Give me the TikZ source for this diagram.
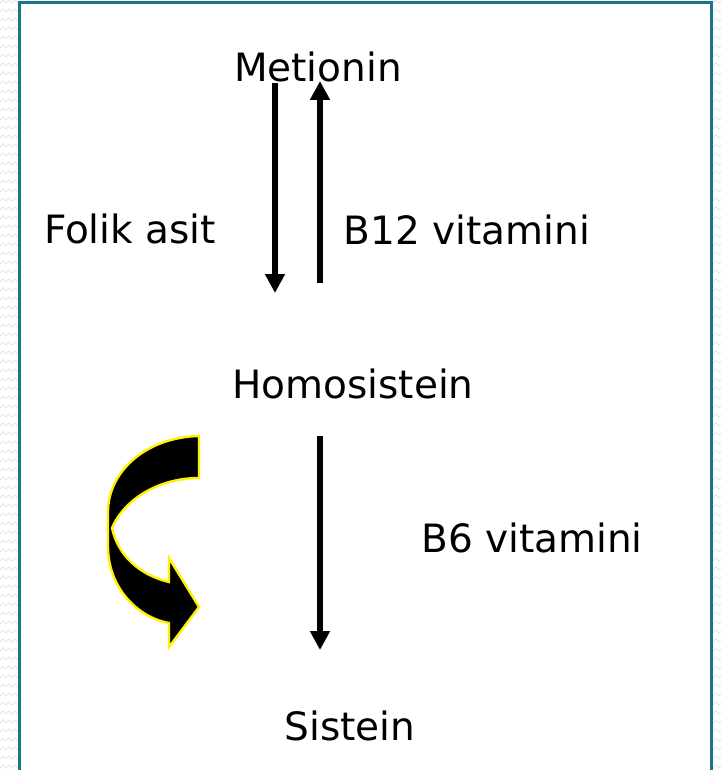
\documentclass[tikz,border=0pt]{standalone}
\usepackage{fontspec}
\setmainfont{DejaVu Sans}
\usetikzlibrary{arrows.meta}
\definecolor{frameteal}{RGB}{28,115,138}
\definecolor{zig}{RGB}{230,230,230}
\tikzset{
  lbl/.style={anchor=base, inner sep=0pt, font=\fontsize{39}{44}\selectfont},
  rxn/.style={line width=5.5pt, -{Triangle[width=19pt,length=19pt]}},
  curvy/.style={fill=black, draw=yellow, line width=2.4pt, line join=miter},
}
\begin{document}
\begin{tikzpicture}[x=1pt,y=-1pt]
\useasboundingbox[fill=white] (0,0) rectangle (720,770);
% side pattern
\foreach \yy in {0,9,...,770}{
  \draw[zig, line width=1pt] (0,\yy+3) -- (3,\yy) -- (6,\yy+3) -- (9,\yy) -- (12,\yy+3) -- (15,\yy) -- (18,\yy+3);
  \draw[zig, line width=1pt] (713,\yy+3) -- (716,\yy) -- (719,\yy+3) -- (722,\yy);
}
% frame
\draw[frameteal, line width=3pt] (19.5,775) -- (19.5,3) -- (711,3) -- (711,775);
% labels
\node[lbl] (met) at (318,82) {Metionin};
\node[lbl] (fol) at (130,243) {Folik asit};
\node[lbl] (b12) at (467,244) {B12 vitamini};
\node[lbl] (hom) at (353,398) {Homosistein};
\node[lbl] (b6) at (532,552) {B6 vitamini};
\node[lbl] (sis) at (350,740) {Sistein};
% arrow endpoints
\coordinate (a1s) at (275,83);
\coordinate (a1e) at (275,293);
\coordinate (a2s) at (320,283);
\coordinate (a2e) at (320,81);
\coordinate (a3s) at (320,436);
\coordinate (a3e) at (320,650);
\draw[rxn] (a1s) -- (a1e);
\draw[rxn] (a2s) -- (a2e);
\draw[rxn] (a3s) -- (a3e);
% curved block arrow
\draw[curvy] (199,436)
  .. controls (148,437) and (108,470) .. (108,512)
  -- (108,546)
  .. controls (108,590) and (140,618) .. (169,623)
  -- (169,647) -- (199,607) -- (169,558) -- (169,582)
  .. controls (140,575) and (118,556) .. (112,528)
  .. controls (125,498) and (160,478) .. (199,478)
  -- cycle;
\end{tikzpicture}
\end{document}
